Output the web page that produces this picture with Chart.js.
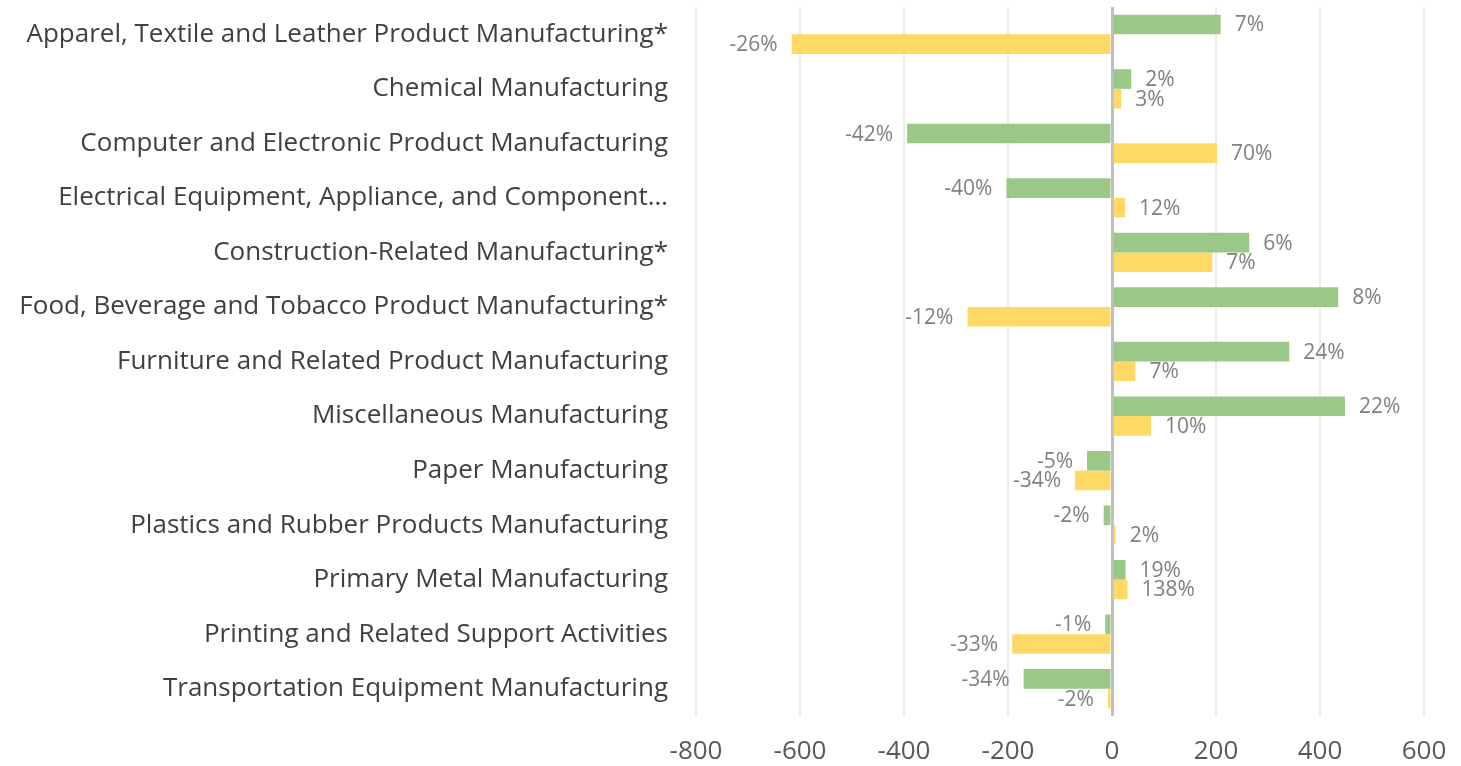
<!DOCTYPE html>
<html>
<head>
<meta charset="utf-8">
<script src="https://cdn.jsdelivr.net/npm/chart.js@4.4.1/dist/chart.umd.min.js"></script>
<style>
  html, body { margin: 0; padding: 0; background: #fff; }
  #wrap { width: 1461px; height: 766px; position: relative; }
</style>
</head>
<body>
<div id="wrap"><canvas id="chart"></canvas></div>
<script>
// categories, top to bottom
const categories = [
  'Apparel, Textile and Leather Product Manufacturing*',
  'Chemical Manufacturing',
  'Computer and Electronic Product Manufacturing',
  'Electrical Equipment, Appliance, and Component…',
  'Construction-Related Manufacturing*',
  'Food, Beverage and Tobacco Product Manufacturing*',
  'Furniture and Related Product Manufacturing',
  'Miscellaneous Manufacturing',
  'Paper Manufacturing',
  'Plastics and Rubber Products Manufacturing',
  'Primary Metal Manufacturing',
  'Printing and Related Support Activities',
  'Transportation Equipment Manufacturing'
];

// green series (upper bar) and yellow series (lower bar)
const greenValues  = [209, 37, -394, -203, 264, 435, 341, 448, -48, -16, 26, -13, -170];
const yellowValues = [-616, 18, 202, 25, 193, -278, 45, 75, -71, 7, 30, -192, -8];

// percentage labels shown at bar ends
const greenPct  = ['7%', '2%', '-42%', '-40%', '6%', '8%', '24%', '22%', '-5%', '-2%', '19%', '-1%', '-34%'];
const yellowPct = ['-26%', '3%', '70%', '12%', '7%', '-12%', '7%', '10%', '-34%', '2%', '138%', '-33%', '-2%'];

const xMin = -800, xMax = 600, xStep = 200;

const pctLabels = [greenPct, yellowPct];

// draws the % labels just past the end of each bar
const barLabels = {
  id: 'barLabels',
  afterDatasetsDraw(chart) {
    const ctx = chart.ctx;
    ctx.save();
    ctx.font = '21px "Open Sans"';
    ctx.fillStyle = '#808080';
    ctx.textBaseline = 'middle';
    chart.data.datasets.forEach((ds, i) => {
      const meta = chart.getDatasetMeta(i);
      meta.data.forEach((bar, j) => {
        const v = ds.data[j];
        if (v >= 0) {
          ctx.textAlign = 'left';
          ctx.fillText(pctLabels[i][j], bar.x + 14, bar.y + 1);
        } else {
          ctx.textAlign = 'right';
          ctx.fillText(pctLabels[i][j], bar.x - 14, bar.y + 1);
        }
      });
    });
    ctx.restore();
  }
};

new Chart(document.getElementById('chart'), {
  type: 'bar',
  data: {
    labels: categories,
    datasets: [
      {
        label: 'Series 1',
        data: greenValues,
        backgroundColor: '#9bc886',
        categoryPercentage: 0.72,
        barPercentage: 1.0
      },
      {
        label: 'Series 2',
        data: yellowValues,
        backgroundColor: '#ffd966',
        categoryPercentage: 0.72,
        barPercentage: 1.0
      }
    ]
  },
  options: {
    indexAxis: 'y',
    responsive: true,
    maintainAspectRatio: false,
    animation: false,
    layout: { padding: { top: 7, right: 37, left: 0, bottom: 0 } },
    plugins: {
      legend: { display: false },
      tooltip: { enabled: false }
    },
    scales: {
      x: {
        min: xMin,
        max: xMax,
        ticks: {
          stepSize: xStep,
          padding: 20,
          maxRotation: 0,
          color: '#595959',
          font: { family: 'Open Sans', size: 26 }
        },
        grid: {
          drawTicks: false,
          color: c => (c.tick && c.tick.value === 0) ? '#bfbfbf' : '#ebebeb',
          lineWidth: c => (c.tick && c.tick.value === 0) ? 3 : 2
        },
        border: { display: false },
        afterFit: scale => {
          scale.height = 50;
          scale.paddingLeft = 0;
          scale.paddingRight = 0;
        }
      },
      y: {
        grid: { display: false, drawTicks: false },
        border: { display: false },
        ticks: {
          padding: 28,
          color: '#404040',
          font: { family: 'Open Sans', size: 26 }
        },
        afterFit: scale => {
          scale.width = 696;
          scale.paddingTop = 0;
          scale.paddingBottom = 0;
        }
      }
    }
  },
  plugins: [barLabels]
});
</script>
</body>
</html>
